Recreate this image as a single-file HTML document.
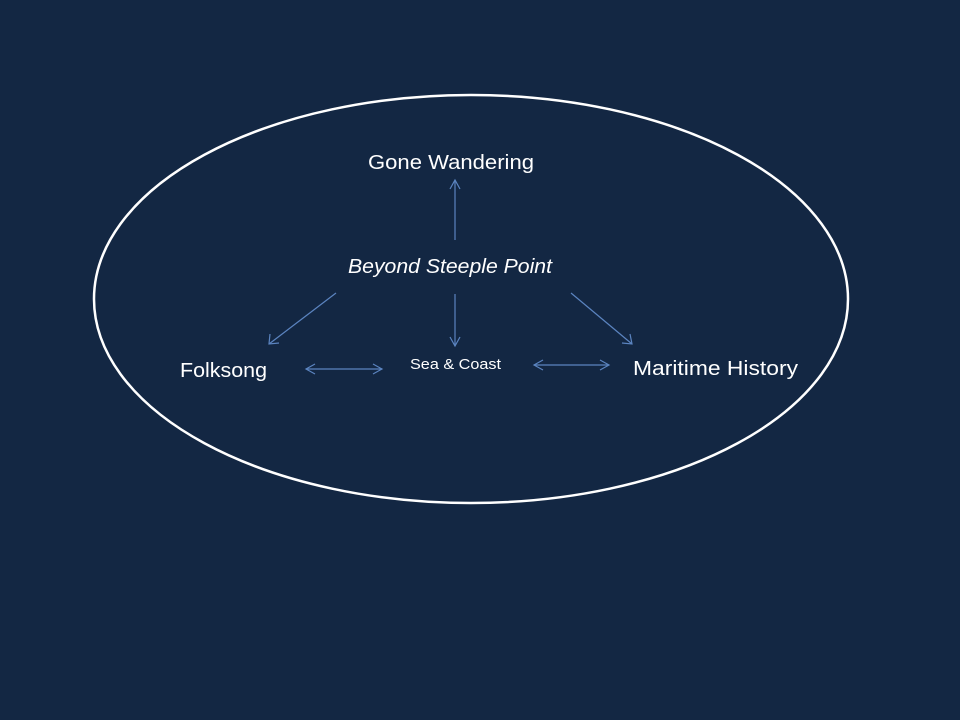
<!DOCTYPE html>
<html><head><style>
html,body{margin:0;padding:0;background:#132743;}
svg{display:block;}
text{font-family:"Liberation Sans","DejaVu Sans",sans-serif;fill:#fff;}
</style></head><body>
<svg width="960" height="720" viewBox="0 0 960 720">
<rect width="960" height="720" fill="#132743"/>
<ellipse cx="471" cy="299" rx="377" ry="204" fill="none" stroke="#fff" stroke-width="2.5"/>
<g stroke="#5b84c0" stroke-width="1.2" fill="none">
<line x1="455" y1="240" x2="455" y2="180"/><polyline points="450,189 455,180 460,189"/>
<line x1="455" y1="294" x2="455" y2="346"/><polyline points="450,337 455,346 460,337"/>
<line x1="336" y1="293" x2="269" y2="344"/><polyline points="270,334 269,344 279,343"/>
<line x1="571" y1="293" x2="632" y2="344"/><polyline points="622,343 632,344 630,334"/>
<line x1="306" y1="369" x2="382" y2="369"/><polyline points="315,364 306,369 315,374"/><polyline points="373,364 382,369 373,374"/>
<line x1="534" y1="365" x2="609" y2="365"/><polyline points="543,360 534,365 543,370"/><polyline points="600,360 609,365 600,370"/>
</g>
<text x="368" y="169" font-size="20" textLength="166" lengthAdjust="spacingAndGlyphs">Gone Wandering</text>
<text x="348" y="273" font-size="20" font-style="italic" textLength="204" lengthAdjust="spacingAndGlyphs">Beyond Steeple Point</text>
<text x="180" y="377" font-size="20" textLength="87" lengthAdjust="spacingAndGlyphs">Folksong</text>
<text x="410" y="369" font-size="15" textLength="91" lengthAdjust="spacingAndGlyphs">Sea &amp; Coast</text>
<text x="633" y="375" font-size="20" textLength="165" lengthAdjust="spacingAndGlyphs">Maritime History</text>
</svg>
</body></html>
